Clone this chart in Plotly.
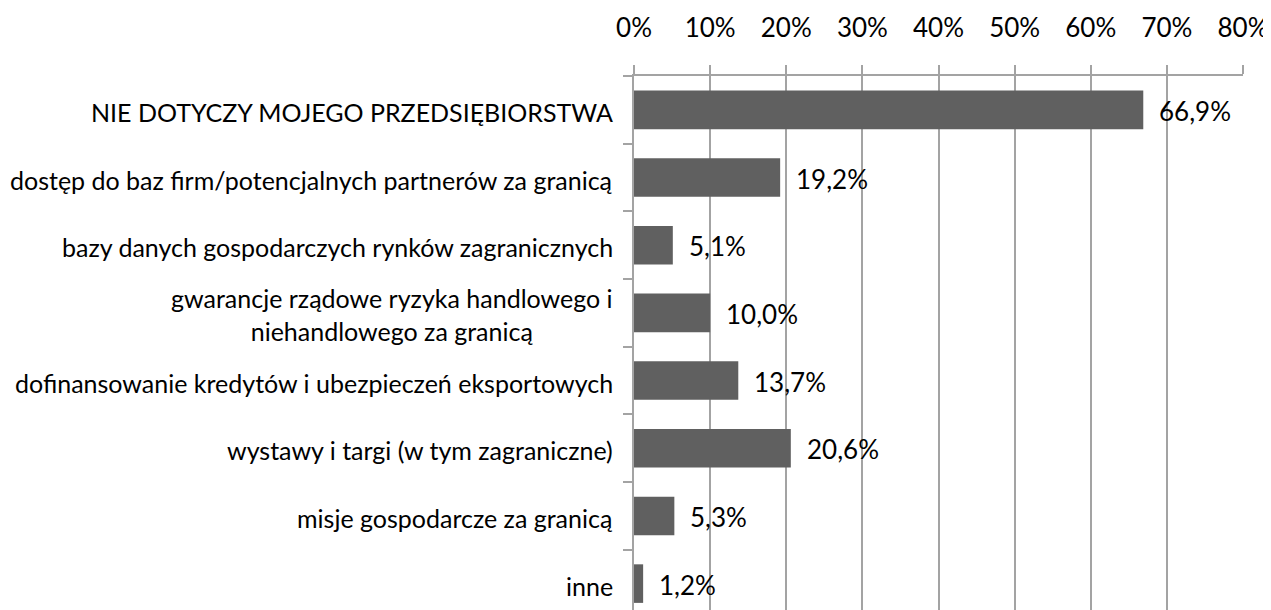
import plotly.graph_objects as go

categories = [
    "NIE DOTYCZY MOJEGO PRZEDSIĘBIORSTWA",
    "dostęp do baz firm/potencjalnych partnerów za granicą",
    "bazy danych gospodarczych rynków zagranicznych",
    "gwarancje rządowe ryzyka handlowego i<br>niehandlowego za granicą",
    "dofinansowanie kredytów i ubezpieczeń eksportowych",
    "wystawy i targi (w tym zagraniczne)",
    "misje gospodarcze za granicą",
    "inne",
]
values = [66.9, 19.2, 5.1, 10.0, 13.7, 20.6, 5.3, 1.2]
tick_vals = [0, 10, 20, 30, 40, 50, 60, 70, 80]
tick_text = ["0%", "10%", "20%", "30%", "40%", "50%", "60%", "70%", "80%"]

FONT = "Lato"
BAR = "#606060"
GRID = "#a3a3a3"

fig = go.Figure()
fig.add_trace(go.Bar(
    x=values, y=categories, orientation="h",
    marker=dict(color=BAR, line=dict(width=0)),
    hoverinfo="skip",
))

annotations = []
for c, v in zip(categories, values):
    annotations.append(dict(
        x=v, y=c, xref="x", yref="y", xanchor="left", yanchor="middle",
        xshift=14, yshift=-1, showarrow=False,
        text=f"{v:.1f}%".replace(".", ","),
        font=dict(family=FONT, size=26, color="#000000"),
    ))
    annotations.append(dict(
        x=0, y=c, xref="paper", yref="y", xanchor="right", yanchor="middle",
        xshift=-19, yshift=-2, showarrow=False, align="center",
        text=c,
        font=dict(family=FONT, size=25, color="#000000"),
    ))

fig.update_layout(
    width=1271, height=602,
    margin=dict(l=626, r=36, t=68, b=0),
    paper_bgcolor="white", plot_bgcolor="white",
    showlegend=False,
    bargap=0.43,
    annotations=annotations,
    xaxis=dict(
        side="top", range=[0, 80],
        tickvals=tick_vals, ticktext=tick_text,
        tickfont=dict(family=FONT, size=26, color="#000000"),
        ticklabeloverflow="allow",
        ticks="outside", ticklen=9, tickwidth=1.5, tickcolor=GRID,
        ticklabelstandoff=18,
        showgrid=True, gridcolor=GRID, gridwidth=1.5,
        showline=True, linecolor=GRID, linewidth=1.5,
        zeroline=False, fixedrange=True,
    ),
    yaxis=dict(
        type="category", categoryorder="array", categoryarray=categories,
        range=[7.39, -0.5],
        showticklabels=False,
        ticks="outside", ticklen=9, tickwidth=1.5, tickcolor=GRID,
        tickson="boundaries",
        showgrid=False,
        showline=True, linecolor=GRID, linewidth=1.5,
        zeroline=False, fixedrange=True,
    ),
)

fig.write_html("out.html")
